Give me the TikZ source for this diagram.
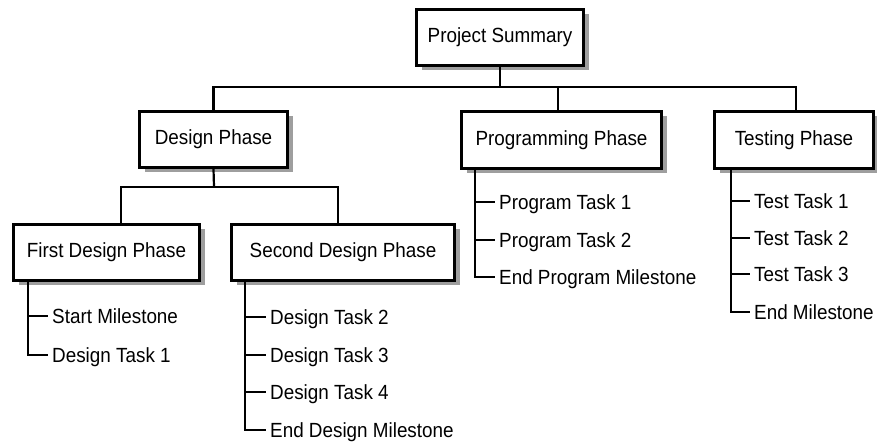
\documentclass[tikz,border=0pt]{standalone}
\usepackage{fontspec}
\setmainfont[FakeStretch=0.92]{Liberation Sans}
\usetikzlibrary{shadows}
\begin{document}
\begin{tikzpicture}[x=1pt,y=-1pt,
  box/.style={draw=black, line width=2.8pt, fill=white, inner sep=0pt,
    font=\fontsize{20.5pt}{24pt}\selectfont,
    drop shadow={shadow xshift=5pt, shadow yshift=-5pt, fill=black!38, opacity=1}},
  item/.style={anchor=west, inner xsep=4pt, inner ysep=0pt, text height=14.6pt, text depth=0pt,
    font=\fontsize{20.5pt}{24pt}\selectfont},
  conn/.style={draw=black, line width=2.2pt}]
\useasboundingbox (0,0) rectangle (877,443);

% boxes
\node[box, minimum width=167pt, minimum height=56pt] (ps) at (500,37.5) {Project Summary};
\node[box, minimum width=148pt, minimum height=56pt] (dp) at (213.5,139.5) {Design Phase};
\node[box, minimum width=200pt, minimum height=57pt] (pp) at (561.5,140) {Programming Phase};
\node[box, minimum width=159pt, minimum height=57pt] (tp) at (794,140) {Testing Phase};
\node[box, minimum width=186pt, minimum height=56pt] (fd) at (106.5,252.5) {First Design Phase};
\node[box, minimum width=223pt, minimum height=56pt] (sd) at (343,252.5) {Second Design Phase};

% bus coordinates
\coordinate (bus) at (500,87);
\coordinate (dbus) at (214,187);

% top level connectors
\draw[conn] (ps.south) -- (bus);
\draw[conn] (dp.north) -- (dp.north |- bus) -- ([xshift=2pt]tp.north |- bus) -- ([xshift=2pt]tp.north);
\draw[conn] ([xshift=-3.5pt]pp.north) -- ([xshift=-3.5pt]pp.north |- bus);

% design sub-level
\draw[conn] (dp.south) -- (dbus);
\draw[conn] ([xshift=14.5pt]fd.north) -- ([xshift=14.5pt]fd.north |- dbus) -- ([xshift=-5pt]sd.north |- dbus) -- ([xshift=-5pt]sd.north);

% first design items
\node[item] (fd1) at (48,316) {Start Milestone};
\node[item] (fd2) at (48,355) {Design Task 1};
\foreach \n in {fd1,fd2} \draw[conn] ([xshift=16pt]fd.south west) |- (\n.west);

% second design items
\node[item] (sd1) at (266,317) {Design Task 2};
\node[item] (sd2) at (266,355) {Design Task 3};
\node[item] (sd3) at (266,392) {Design Task 4};
\node[item] (sd4) at (266,430) {End Design Milestone};
\foreach \n in {sd1,sd2,sd3,sd4} \draw[conn] ([xshift=15pt]sd.south west) |- (\n.west);

% programming items
\node[item] (pp1) at (495,202) {Program Task 1};
\node[item] (pp2) at (495,240) {Program Task 2};
\node[item] (pp3) at (495,277) {End Program Milestone};
\foreach \n in {pp1,pp2,pp3} \draw[conn] ([xshift=15pt]pp.south west) |- (\n.west);

% testing items
\node[item] (tp1) at (750,201) {Test Task 1};
\node[item] (tp2) at (750,238) {Test Task 2};
\node[item] (tp3) at (750,274) {Test Task 3};
\node[item] (tp4) at (750,312) {End Milestone};
\foreach \n in {tp1,tp2,tp3,tp4} \draw[conn] ([xshift=18pt]tp.south west) |- (\n.west);
\end{tikzpicture}
\end{document}
